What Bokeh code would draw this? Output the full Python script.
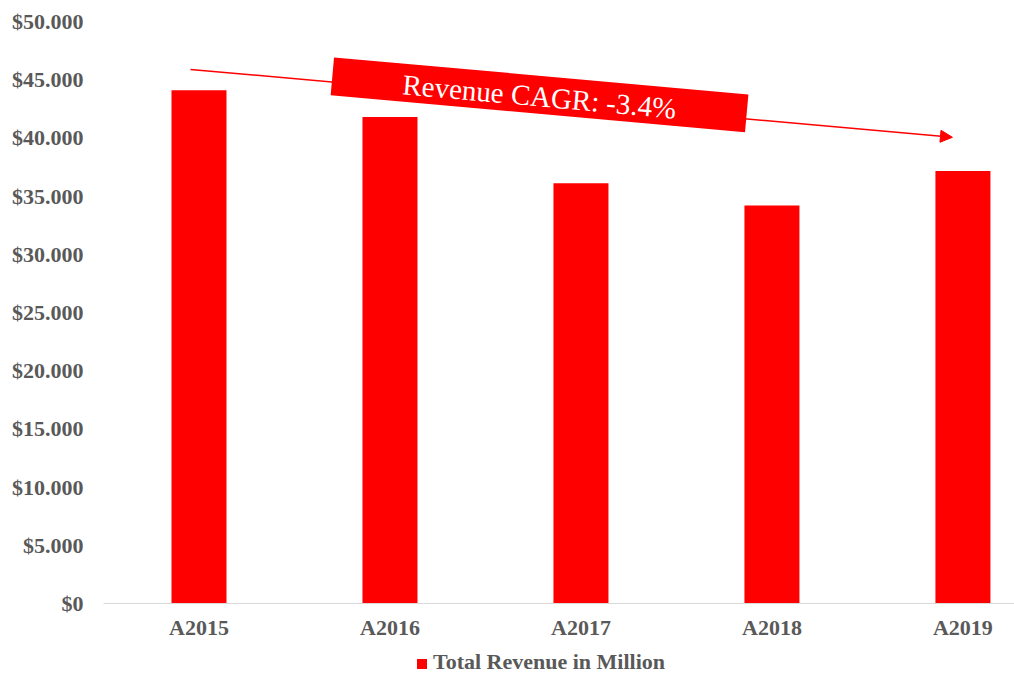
from bokeh.plotting import figure
from bokeh.layouts import column
from bokeh.models import Range1d, FixedTicker, Arrow, NormalHead, ColumnDataSource, Div
from bokeh.core.properties import value
from bokeh.embed import file_html
from bokeh.resources import INLINE
import math

# ---- data ----
categories = ["A2015", "A2016", "A2017", "A2018", "A2019"]
revenue = [44100, 41800, 36100, 34200, 37150]
y_ticks = list(range(0, 50001, 5000))
series_name = "Total Revenue in Million"
cagr_label = "Revenue CAGR: -3.4%"

RED = "#ff0000"
GRAY = "#595959"
FONT = "Liberation Serif"

x_pos = [i + 0.5 for i in range(len(categories))]
src = ColumnDataSource(dict(x=x_pos, top=revenue, cat=categories))

p = figure(width=1014, height=642, output_backend="svg", toolbar_location=None,
           x_range=Range1d(0, 4.77), y_range=Range1d(0, 50000),
           min_border_left=103, min_border_right=0, min_border_top=21,
           min_border_bottom=38)
p.outline_line_color = None
p.xgrid.visible = False
p.ygrid.visible = False
p.background_fill_color = "white"
p.border_fill_color = "white"

bars = p.vbar(x="x", top="top", width=0.288, source=src, fill_color=RED, line_color=None)

# y axis
p.yaxis.ticker = FixedTicker(ticks=y_ticks)
p.yaxis.major_label_overrides = {t: ("$0" if t == 0 else "$" + f"{t:,}".replace(",", ".")) for t in y_ticks}
p.yaxis.axis_line_color = None
p.yaxis.major_tick_line_color = None
p.yaxis.minor_tick_line_color = None
p.yaxis.major_label_standoff = 14
p.yaxis.major_label_text_font = FONT
p.yaxis.major_label_text_font_style = "bold"
p.yaxis.major_label_text_font_size = "22px"
p.yaxis.major_label_text_color = GRAY

# x axis
p.xaxis.ticker = FixedTicker(ticks=x_pos)
p.xaxis.major_label_overrides = {x: c for x, c in zip(x_pos, categories)}
p.xaxis.axis_line_color = "#d9d9d9"
p.xaxis.axis_line_width = 1
p.xaxis.major_tick_line_color = None
p.xaxis.minor_tick_line_color = None
p.xaxis.major_label_standoff = 5
p.xaxis.major_label_text_font = FONT
p.xaxis.major_label_text_font_style = "bold"
p.xaxis.major_label_text_font_size = "22px"
p.xaxis.major_label_text_color = GRAY

# trend arrow (beneath the label box)
p.add_layout(Arrow(end=NormalHead(size=12, fill_color=RED, line_color=RED),
                   x_start=0.4555, y_start=45880, x_end=4.445, y_end=40050,
                   line_color=RED, line_width=1.5, level="underlay"))

# rotated label box
ang = -math.atan(37 / 414)
p.rect(x=[2.283], y=[43700], width=[416], height=[38], angle=ang,
       width_units="screen", height_units="screen", fill_color=RED, line_color=None)
p.text(x=[2.283], y=[43560], text=[cagr_label], angle=ang, text_align="center",
       text_baseline="middle", text_color="white", text_font=value(FONT),
       text_font_size="29px")

# legend strip below the chart (HTML text)
legend_html = (
    '<div style="padding-left:417px;padding-top:9px;font-family:\'Liberation Serif\';'
    'font-weight:bold;font-size:22px;line-height:22px;color:%s;white-space:nowrap;">'
    '<span style="display:inline-block;width:10px;height:10px;background:%s;'
    'margin-right:6px;vertical-align:middle;"></span>%s</div>' % (GRAY, RED, series_name)
)
legend_div = Div(text=legend_html, width=1014, height=31, margin=0)

layout = column(p, legend_div, spacing=0, styles={"background-color": "white"})
open("out.html", "w").write(file_html(layout, INLINE))
